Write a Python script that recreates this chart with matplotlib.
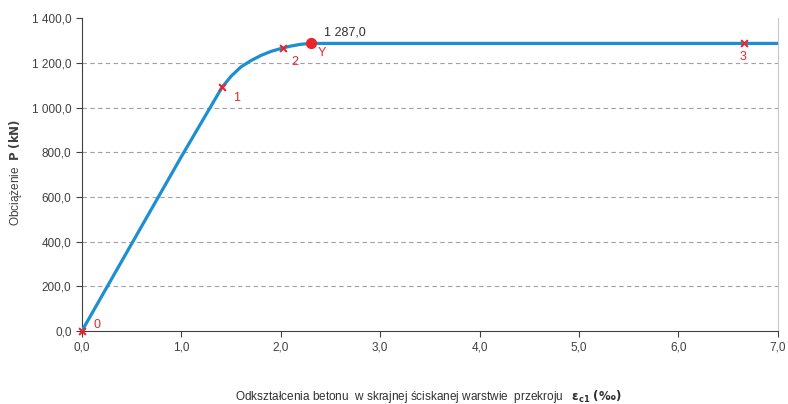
import numpy as np
import matplotlib.pyplot as plt
from matplotlib.ticker import FuncFormatter, MultipleLocator

plt.rcParams['font.family'] = ['Liberation Sans', 'DejaVu Sans']

# load curve: strain eps_c1 [permille] vs load P [kN]
strain = [0.0, 0.5, 1.0, 1.41, 1.5, 1.6, 1.7, 1.8, 1.9, 2.0, 2.1, 2.2, 2.30, 3.0, 4.0, 5.0, 6.0, 7.0]
load = [0.0, 390, 780, 1091, 1140, 1182, 1210, 1233, 1251, 1264, 1275, 1283, 1287, 1287, 1287, 1287, 1287, 1287]

pt_names = ['0', '1', '2', '3']
pt_strain = [0.0, 1.41, 2.02, 6.66]
pt_load = [0.0, 1091, 1266, 1287]
yield_strain = 2.30
yield_load = 1287.0

def fmt(v, pos=None):
    s = f"{v:,.1f}"
    return s.replace(',', ' ').replace('.', ',')

fig = plt.figure(figsize=(7.88, 4.04), dpi=100)
ax = fig.add_axes([0.104, 0.181, 0.883, 0.774])

ax.plot(strain, load, color='#1b8fd2', lw=2.3, solid_capstyle='round', zorder=3)
ax.scatter(pt_strain, pt_load, marker='x', color='#e8262c', s=24, lw=1.5, zorder=4, clip_on=False)
ax.scatter([yield_strain], [yield_load], marker='o', color='#e8262c', s=50, zorder=5)

lbl_off = {'0': (8, 4), '1': (8, -8), '2': (6, -10), '3': (-3, -10)}
for n, x, y in zip(pt_names, pt_strain, pt_load):
    dx, dy = lbl_off[n]
    ax.annotate(n, (x, y), xytext=(dx, dy), textcoords='offset points',
                color='#e8262c', fontsize=9, ha='left', va='center')
ax.annotate('Y', (yield_strain, yield_load), xytext=(5, -7), textcoords='offset points',
            color='#e8262c', fontsize=9, ha='left', va='center')
ax.annotate(fmt(yield_load), (yield_strain, yield_load), xytext=(10, 8),
            textcoords='offset points', color='#303030', fontsize=9, ha='left', va='center')

ax.set_xlim(0, 7)
ax.set_ylim(0, 1400)
ax.xaxis.set_major_locator(MultipleLocator(1))
ax.yaxis.set_major_locator(MultipleLocator(200))
ax.xaxis.set_major_formatter(FuncFormatter(fmt))
ax.yaxis.set_major_formatter(FuncFormatter(fmt))
ax.tick_params(labelsize=8.5, labelcolor='#404040', color='#404040', length=4, width=0.8)

for y in range(200, 1400, 200):
    ax.axhline(y, color='#a0a0a0', lw=0.8, ls=(0, (4, 3)), zorder=1)

ax.spines['top'].set_visible(False)
ax.spines['right'].set_color('#c8c8c8')
ax.spines['left'].set_color('#404040')
ax.spines['bottom'].set_color('#404040')

fig.text(0.02, 0.574, r'Obciążenie  $\mathbf{P\ (kN)}$', rotation=90, ha='center',
         va='center', fontsize=8.5, color='#404040')
fig.text(0.543, 0.018, r'Odkształcenia betonu  w skrajnej ściskanej warstwie  przekroju   $\boldsymbol{\varepsilon}_{\mathbf{c1}}$ $\mathbf{(‰)}$',
         ha='center', va='center', fontsize=8.5, color='#303030')

fig.savefig('out.png', dpi=100)
